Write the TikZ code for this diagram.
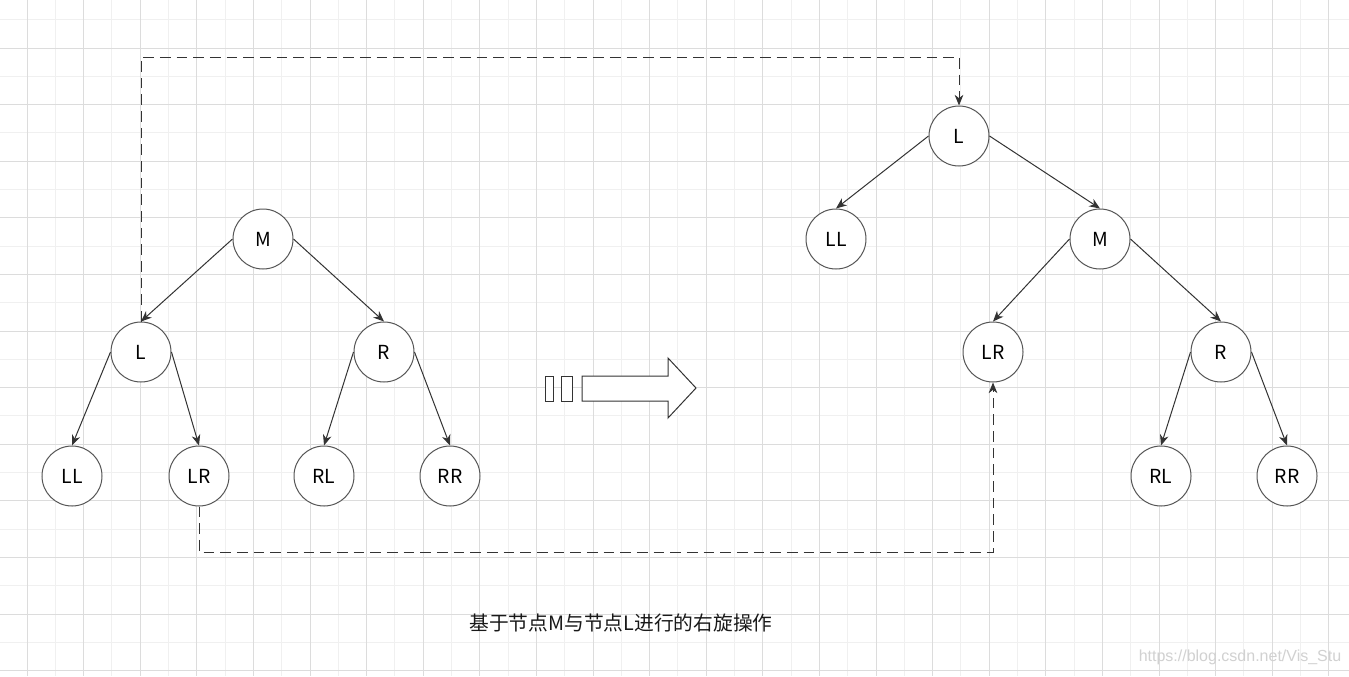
\documentclass[tikz,border=0pt]{standalone}
\usepackage{fontspec}
\newfontfamily\cjk{Noto Sans CJK SC}
\setsansfont{Liberation Sans}
\usetikzlibrary{arrows.meta}
\definecolor{gridmajor}{HTML}{DCDCDC}
\definecolor{gridminor}{HTML}{F0F0F0}
\definecolor{ink}{HTML}{333333}
\definecolor{ring}{HTML}{555555}
\begin{document}
\begin{tikzpicture}[x=0.75pt,y=-0.75pt,
  treenode/.style={circle,draw=ring,line width=0.75pt,fill=white,minimum size=45pt,inner sep=0pt,font=\cjk\fontsize{14.5}{17}\selectfont},
  link/.style={draw=ink,line width=0.75pt,-{Stealth[length=8pt,width=6.5pt,inset=2.5pt]}},
  moved/.style={link,dash pattern=on 8pt off 4.5pt}]
\useasboundingbox (0,0) rectangle (1349,676);
\fill[white] (0,0) rectangle (1349,676);
\begin{scope}
\clip (0,0) rectangle (1349,676);
\foreach \k in {-1,...,23} \draw[gridminor,line width=0.75pt] ({55.3+56.6*\k},0) -- ++(0,676);
\foreach \k in {0,...,11} \draw[gridminor,line width=0.75pt] (0,{19.7+56.6*\k}) -- ++(1349,0);
\foreach \k in {0,...,23} \draw[gridmajor,line width=0.75pt] ({27+56.6*\k},0) -- ++(0,676);
\foreach \k in {0,...,11} \draw[gridmajor,line width=0.75pt] (0,{48+56.6*\k}) -- ++(1349,0);
\end{scope}

\node[treenode] (M1) at (263,239) {M};
\node[treenode] (L1) at (141,352) {L};
\node[treenode] (R1) at (384,352) {R};
\node[treenode] (LL1) at (72,476) {LL};
\node[treenode] (LR1) at (199,476) {LR};
\node[treenode] (RL1) at (324,476) {RL};
\node[treenode] (RR1) at (450,476) {RR};

\node[treenode] (L2) at (959,136) {L};
\node[treenode] (LL2) at (836,239) {LL};
\node[treenode] (M2) at (1100,239) {M};
\node[treenode] (LR2) at (993,352) {LR};
\node[treenode] (R2) at (1221,352) {R};
\node[treenode] (RL2) at (1161,476) {RL};
\node[treenode] (RR2) at (1287,476) {RR};

\draw[link] (M1.west) -- (L1.north);
\draw[link] (M1.east) -- (R1.north);
\draw[link] (L1.west) -- (LL1.north);
\draw[link] (L1.east) -- (LR1.north);
\draw[link] (R1.west) -- (RL1.north);
\draw[link] (R1.east) -- (RR1.north);

\draw[link] (L2.west) -- (LL2.north);
\draw[link] (L2.east) -- (M2.north);
\draw[link] (M2.west) -- (LR2.north);
\draw[link] (M2.east) -- (R2.north);
\draw[link] (R2.west) -- (RL2.north);
\draw[link] (R2.east) -- (RR2.north);

\coordinate (top) at (0,57);
\coordinate (bottom) at (0,552);
\draw[moved] (L1.north) -- (L1.north |- top) -| (L2.north);
\draw[moved] (LR1.south) -- (LR1.south |- bottom) -| (LR2.south);

\draw[ink,line width=0.75pt,fill=white] (545,376) rectangle (553,401);
\draw[ink,line width=0.75pt,fill=white] (561,376) rectangle (572,401);
\draw[ink,line width=0.75pt,fill=white,line join=miter]
  (582,376) -- (668,376) -- (668,358) -- (696,388) -- (668,418) -- (668,401) -- (582,401) -- cycle;

\node[font=\cjk\fontsize{14.8}{18}\selectfont,text=black!90] (caption) at (621,623) {基于节点M与节点L进行的右旋操作};
\node[font=\sffamily\fontsize{12}{14}\selectfont,text=black!18] (mark) at (1240,657) {https://blog.csdn.net/Vis\_Stu};
\end{tikzpicture}
\end{document}
